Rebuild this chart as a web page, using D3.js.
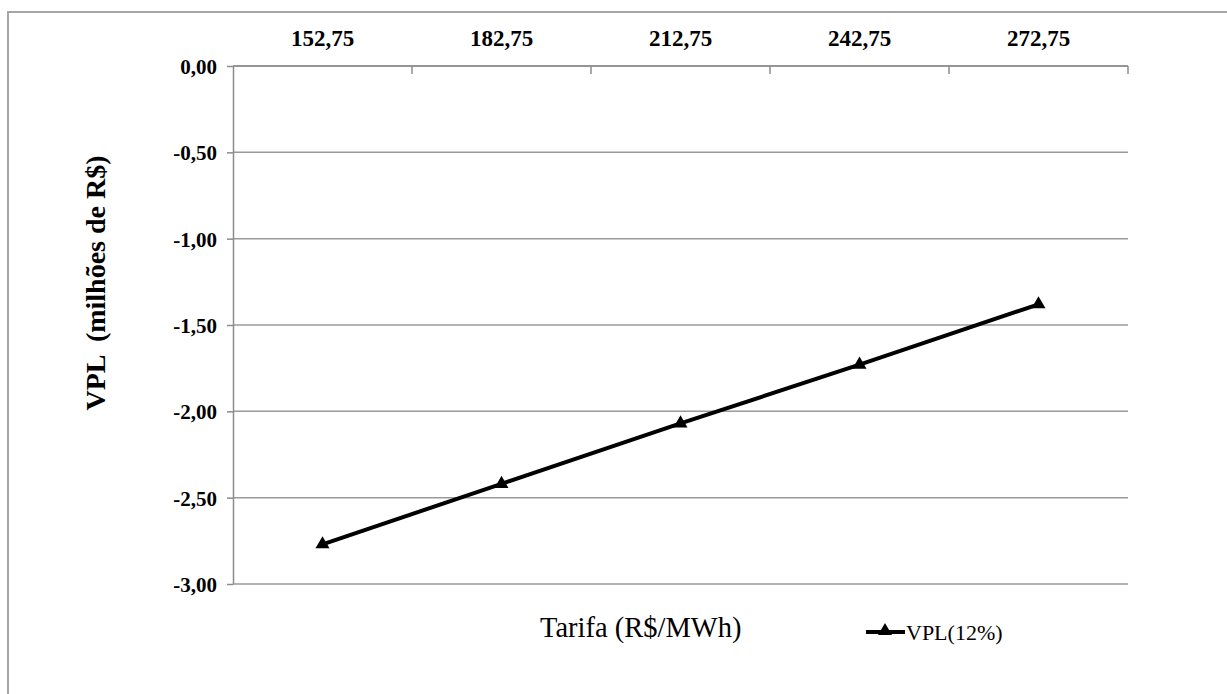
<!DOCTYPE html>
<html>
<head>
<meta charset="utf-8">
<script src="https://cdn.jsdelivr.net/npm/d3@7"></script>
<style>
  html, body { margin: 0; padding: 0; background: #fff; }
  svg { display: block; }
  text { font-family: "Liberation Serif", "Times New Roman", serif; fill: #000; }
</style>
</head>
<body>
<svg id="chart" width="1227" height="694"></svg>
<script>
// ---- data ----
const categories = ["152,75", "182,75", "212,75", "242,75", "272,75"];
const vplValues = [-2.77, -2.42, -2.07, -1.73, -1.38];
const yTicks = [0, -0.5, -1.0, -1.5, -2.0, -2.5, -3.0];
const seriesName = "VPL(12%)";
const xTitle = "Tarifa (R$/MWh)";
const yTitle = "VPL  (milhões de R$)";

const svg = d3.select("#chart");
const W = 1227, H = 694;
const plot = { left: 233, right: 1128, top: 66, bottom: 584 };

// outer frame (extends past viewport right/bottom)
svg.append("rect")
  .attr("x", 8).attr("y", 12)
  .attr("width", W + 20).attr("height", H + 20)
  .attr("fill", "none").attr("stroke", "#a6a6a6").attr("stroke-width", 2);

const x = d3.scaleBand().domain(categories).range([plot.left, plot.right]).padding(0);
const y = d3.scaleLinear().domain([-3, 0]).range([plot.bottom, plot.top]);

const fmt = v => d3.format(".2f")(v).replace(".", ",").replace("−", "-");

// gridlines
svg.append("g").selectAll("line").data(yTicks).join("line")
  .attr("x1", plot.left).attr("x2", plot.right)
  .attr("y1", d => y(d)).attr("y2", d => y(d))
  .attr("stroke", "#9a9a9a").attr("stroke-width", 1.5);

// y axis
const yAxis = svg.append("g").attr("transform", `translate(${plot.left},0)`)
  .call(d3.axisLeft(y).tickValues(yTicks).tickFormat(fmt).tickSize(6).tickSizeOuter(0).tickPadding(10));
yAxis.attr("font-family", null);
yAxis.select(".domain").attr("stroke", "#8c8c8c").attr("stroke-width", 1.5);
yAxis.selectAll(".tick line").attr("stroke", "#8c8c8c").attr("stroke-width", 1.5);
yAxis.selectAll(".tick text")
  .style("font-family", "'Liberation Serif', serif")
  .style("font-size", "21px").style("font-weight", "bold").attr("fill", "#000")
  .attr("dy", "0.35em");

// top x axis: line, ticks at category boundaries (pointing down)
const boundaries = categories.map(c => x(c)).concat([plot.right]).slice(1);
svg.append("line")
  .attr("x1", plot.left).attr("x2", plot.right)
  .attr("y1", plot.top).attr("y2", plot.top)
  .attr("stroke", "#8c8c8c").attr("stroke-width", 1.5);
svg.append("g").selectAll("line").data(boundaries).join("line")
  .attr("x1", d => d).attr("x2", d => d)
  .attr("y1", plot.top).attr("y2", plot.top + 8)
  .attr("stroke", "#8c8c8c").attr("stroke-width", 1.5);
svg.append("g").selectAll("text").data(categories).join("text")
  .attr("x", d => x(d) + x.bandwidth() / 2)
  .attr("y", 46)
  .attr("text-anchor", "middle")
  .style("font-size", "23px").style("font-weight", "bold")
  .text(d => d);

// line series
const pts = categories.map((c, i) => ({ c, v: vplValues[i] }));
const line = d3.line().x(d => x(d.c) + x.bandwidth() / 2).y(d => y(d.v));
svg.append("path").datum(pts)
  .attr("d", line).attr("fill", "none")
  .attr("stroke", "#000").attr("stroke-width", 4);

const tri = d3.symbol().type(d3.symbolTriangle).size(85);
svg.append("g").selectAll("path").data(pts).join("path")
  .attr("transform", d => `translate(${x(d.c) + x.bandwidth() / 2},${y(d.v)})`)
  .attr("d", tri).attr("fill", "#000");

// axis titles
svg.append("text")
  .attr("x", 540).attr("y", 637)
  .style("font-size", "28.5px")
  .text(xTitle);

svg.append("text")
  .attr("transform", "translate(105,283) rotate(-90)")
  .attr("text-anchor", "middle")
  .style("font-size", "28px").style("font-weight", "bold")
  .style("white-space", "pre")
  .text(yTitle);

// legend
const lg = svg.append("g");
lg.append("line").attr("x1", 866).attr("x2", 905).attr("y1", 632).attr("y2", 632)
  .attr("stroke", "#000").attr("stroke-width", 4);
lg.append("path").attr("transform", "translate(885,631)").attr("d", tri).attr("fill", "#000");
lg.append("text").attr("x", 906).attr("y", 640)
  .style("font-size", "22px").text(seriesName);
</script>
</body>
</html>
